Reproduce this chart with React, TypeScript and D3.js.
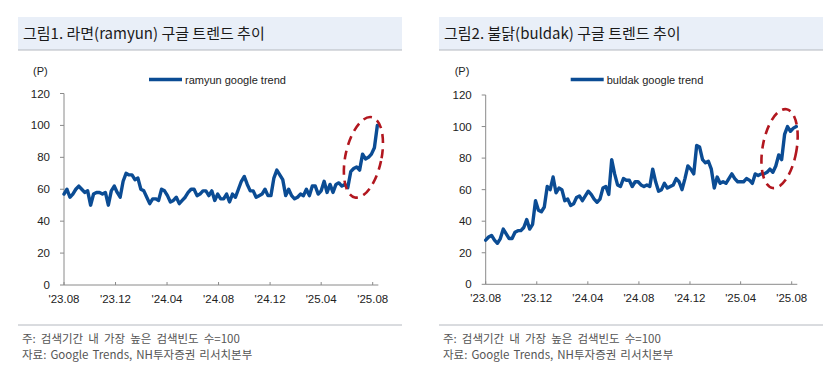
import React from 'react';
import * as d3 from 'd3';

// Weekly Google Trends index, starting week of 2023-08
const ramyun = [
  57, 60, 55, 57, 60, 62, 60, 58, 59,
  50, 57, 58, 58, 57, 58, 50, 59, 62, 58,
  55, 65, 70, 69, 69, 66, 67, 60, 59, 55,
  51, 54, 54, 53, 60, 59, 56, 52, 53, 55,
  51, 53, 55, 58, 60, 60, 56, 57, 59, 59,
  56, 59, 53, 57, 54, 54, 57, 52, 57,
  55, 60, 65, 68, 63, 59, 59, 55, 56, 57,
  60, 56, 56, 67, 72, 69, 66, 56, 60, 56,
  54, 55, 57, 56, 60, 56, 62, 62, 57, 59,
  65, 58, 63, 58, 63, 64, 62, 63, 61, 71,
  73, 74, 72, 82, 79, 80, 82, 86, 100,
];

const buldak = [
  28, 30, 31, 28, 26, 29, 35, 32,
  29, 29, 33, 34, 34, 36, 41, 35, 38, 53,
  47, 46, 49, 62, 60, 68, 58, 61, 60, 53,
  54, 50, 51, 55, 56, 53, 56, 59, 57,
  54, 52, 54, 61, 62, 57, 79, 70, 63, 62,
  67, 66, 66, 62, 65, 65, 63, 62, 63, 62,
  73, 65, 59, 60, 64, 61, 62, 63, 67, 65,
  60, 67, 75, 73, 70, 88, 87, 79, 77, 78,
  73, 61, 68, 64, 65, 64, 67, 70, 67, 65,
  65, 65, 67, 66, 64, 70, 69, 70, 70, 71,
  73, 71, 75, 82, 79, 95, 100, 97, 99, 100,
];

const xTickLabels = ["'23.08", "'23.12", "'24.04", "'24.08", "'24.12", "'25.04", "'25.08"];
const xTickDates = [
  new Date(2023, 7, 1), new Date(2023, 11, 1), new Date(2024, 3, 1),
  new Date(2024, 7, 1), new Date(2024, 11, 1), new Date(2025, 3, 1), new Date(2025, 7, 1),
];
const yTicks = [0, 20, 40, 60, 80, 100, 120];

const startDate = new Date(2023, 7, 1);

const LINE_COLOR = '#0b4c94';
const RED = '#b2171f';
const LATIN = 'Arial, "Liberation Sans", sans-serif';
const KR = '"Noto Sans CJK KR", "Noto Sans", sans-serif';

type PanelProps = {
  data: number[];
  title: string;
  legend: string;
  boxX: number;
  axisX: number;
  axisEnd: number;
  yTop: number;
  yBottom: number;
  ellipseDate: Date;
  ellipseValue: number;
  rx: number;
  ry: number;
  rot: number;
};

function Panel(p: PanelProps) {
  const x = d3.scaleTime().domain([xTickDates[0], xTickDates[xTickDates.length - 1]]).range([p.axisX, p.axisEnd]);
  const y = d3.scaleLinear().domain([0, 120]).range([p.yBottom, p.yTop]);
  const dates = p.data.map((_, i) => d3.timeDay.offset(startDate, i * 7));
  const line = d3.line<number>().x((_, i) => x(dates[i])).y((d) => y(d));
  const lastX = x(dates[dates.length - 1]);
  const ex = x(p.ellipseDate);
  const ey = y(p.ellipseValue);
  return (
    <g>
      {/* title bar */}
      <rect x={p.boxX} y={17} width={384} height={33} fill="#e9eff8" />
      <line x1={p.boxX} x2={p.boxX + 384} y1={50} y2={50} stroke="#b4b8bf" strokeWidth={1} />
      <text x={p.boxX + 5} y={39} fontFamily={KR} fontSize={15} fill="#1a1a1a">{p.title}</text>

      {/* unit */}
      <text x={p.axisX - 31} y={75} fontFamily={LATIN} fontSize={11} fill="#222">(P)</text>

      {/* legend */}
      <line x1={p.axisX + 85} x2={p.axisX + 118} y1={79.5} y2={79.5} stroke={LINE_COLOR} strokeWidth={3.5} />
      <text x={p.axisX + 121} y={83.5} fontFamily={LATIN} fontSize={11} fill="#222">{p.legend}</text>

      {/* y axis */}
      <line x1={p.axisX} x2={p.axisX} y1={y(120)} y2={y(0)} stroke="#8a8a8a" strokeWidth={1} />
      {yTicks.map((t) => (
        <g key={t}>
          <line x1={p.axisX - 4} x2={p.axisX} y1={y(t)} y2={y(t)} stroke="#8a8a8a" strokeWidth={1} />
          <text x={p.axisX - 14} y={y(t) + 4} textAnchor="end" fontFamily={LATIN} fontSize={11.5} fill="#222">{t}</text>
        </g>
      ))}

      {/* x axis */}
      <line x1={p.axisX} x2={lastX + 1} y1={y(0)} y2={y(0)} stroke="#8a8a8a" strokeWidth={1} />
      {xTickDates.map((d, i) => (
        <g key={i}>
          <line x1={x(d)} x2={x(d)} y1={y(0)} y2={y(0) - 3} stroke="#8a8a8a" strokeWidth={1} />
          <text x={x(d)} y={y(0) + 18} textAnchor="middle" fontFamily={LATIN} fontSize={11.5} fill="#222">{xTickLabels[i]}</text>
        </g>
      ))}

      {/* series */}
      <path d={line(p.data) || ''} fill="none" stroke={LINE_COLOR} strokeWidth={3.4} strokeLinejoin="round" strokeLinecap="round" />

      {/* annotation */}
      <ellipse cx={0} cy={0} rx={p.rx} ry={p.ry} transform={`translate(${ex},${ey}) rotate(${p.rot})`}
        fill="none" stroke={RED} strokeWidth={2.6} strokeDasharray="9 6" />

      {/* footer */}
      <line x1={p.boxX} x2={p.boxX + 384} y1={325} y2={325} stroke="#b4b8bf" strokeWidth={1} />
      <text x={p.boxX + 4} y={343} fontFamily={KR} fontSize={11.5} wordSpacing={2.5} fill="#555">주: 검색기간 내 가장 높은 검색빈도 수=100</text>
      <text x={p.boxX + 4} y={359} fontFamily={KR} fontSize={11.5} wordSpacing={1.5} fill="#555">자료: Google Trends, NH투자증권 리서치본부</text>
    </g>
  );
}

export default function App() {
  return (
    <svg width={837} height={377} style={{ position: 'absolute', left: 0, top: 0, background: '#fff' }}>
      <rect width={837} height={377} fill="#fff" />
      <Panel data={ramyun} title="그림1. 라면(ramyun) 구글 트렌드 추이" legend="ramyun google trend"
        boxX={18} axisX={64} axisEnd={372.7} yTop={93.5} yBottom={285}
        ellipseDate={new Date(2025, 6, 10)} ellipseValue={80} rx={18} ry={41} rot={12} />
      <Panel data={buldak} title="그림2. 불닭(buldak) 구글 트렌드 추이" legend="buldak google trend"
        boxX={439} axisX={485.7} axisEnd={791.7} yTop={95} yBottom={284.3}
        ellipseDate={new Date(2025, 6, 3)} ellipseValue={86} rx={17} ry={40} rot={10} />
    </svg>
  );
}
